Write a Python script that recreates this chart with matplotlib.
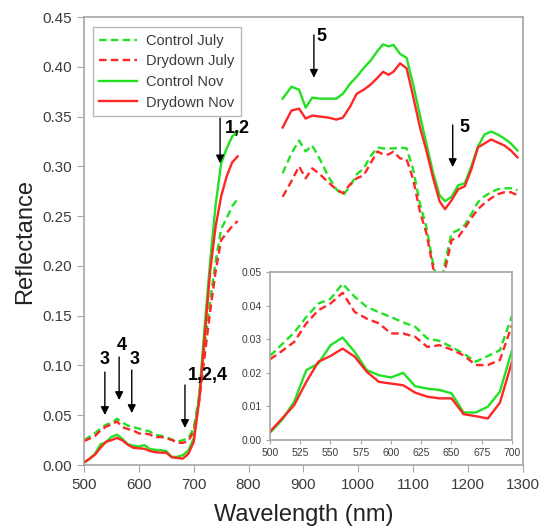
import numpy as np
import matplotlib
matplotlib.use("Agg")
import matplotlib.pyplot as plt

plt.rcParams['font.family'] = ['Liberation Sans', 'DejaVu Sans']

GREEN = '#22e022'
RED = '#ff2626'
GREY = '#a6a6a6'
TXT = '#3c3c3c'

# visible / red-edge part (500-780 nm)
wl_vis = [500, 510, 520, 530, 540, 550, 560, 570, 580, 590, 600, 610, 620, 630, 640,
          650, 660, 670, 680, 690, 700, 710, 720, 730, 740, 750, 760, 770, 780]
control_july_vis = [0.0250, 0.0285, 0.0320, 0.0366, 0.0406, 0.0420, 0.0465, 0.0426, 0.0396, 0.0380,
                    0.0366, 0.0350, 0.0337, 0.0302, 0.0295, 0.0277, 0.0257, 0.0233, 0.0250, 0.0267,
                    0.0370, 0.070, 0.120, 0.165, 0.205, 0.237, 0.248, 0.260, 0.267]
drydown_july_vis = [0.0240, 0.0265, 0.0292, 0.0347, 0.0386, 0.0406, 0.0438, 0.0381, 0.0361, 0.0347,
                    0.0317, 0.0317, 0.0307, 0.0277, 0.0282, 0.0269, 0.0252, 0.0223, 0.0223, 0.0238,
                    0.0342, 0.065, 0.110, 0.155, 0.195, 0.226, 0.233, 0.240, 0.245]
control_nov_vis = [0.0022, 0.0060, 0.0114, 0.0208, 0.0228, 0.0282, 0.0305, 0.0262, 0.0208, 0.0193,
                   0.0186, 0.0200, 0.0160, 0.0153, 0.0149, 0.0139, 0.0082, 0.0082, 0.0099, 0.0144,
                   0.0267, 0.070, 0.140, 0.205, 0.262, 0.303, 0.318, 0.330, 0.335]
drydown_nov_vis = [0.0025, 0.0064, 0.0104, 0.0173, 0.0233, 0.0250, 0.0272, 0.0248, 0.0203, 0.0173,
                   0.0168, 0.0163, 0.0141, 0.0129, 0.0124, 0.0124, 0.0077, 0.0071, 0.0064, 0.0111,
                   0.0233, 0.065, 0.130, 0.195, 0.240, 0.270, 0.290, 0.304, 0.310]

# NIR part (860-1290 nm)
wl_nir = [862, 878, 892, 904, 916, 930, 945, 960, 972, 985, 997, 1010, 1022, 1035, 1045, 1055,
          1064, 1076, 1088, 1100, 1112, 1124, 1136, 1148, 1158, 1170, 1182, 1194, 1206, 1218,
          1230, 1242, 1254, 1266, 1278, 1290]
control_july_nir = [0.293, 0.313, 0.326, 0.315, 0.321, 0.307, 0.290, 0.277, 0.271, 0.280, 0.292, 0.298,
                    0.310, 0.319, 0.318, 0.318, 0.318, 0.319, 0.318, 0.297, 0.263, 0.239, 0.203, 0.175,
                    0.203, 0.233, 0.236, 0.241, 0.252, 0.264, 0.270, 0.274, 0.277, 0.278, 0.278, 0.276]
drydown_july_nir = [0.2695, 0.285, 0.300, 0.288, 0.298, 0.292, 0.284, 0.277, 0.273, 0.282, 0.288, 0.291,
                    0.303, 0.315, 0.312, 0.312, 0.3147, 0.308, 0.307, 0.287, 0.255, 0.233, 0.199, 0.172,
                    0.196, 0.226, 0.229, 0.238, 0.248, 0.257, 0.263, 0.268, 0.272, 0.274, 0.274, 0.271]
control_nov_nir = [0.368, 0.380, 0.377, 0.359, 0.369, 0.368, 0.368, 0.368, 0.373, 0.383, 0.390, 0.399,
                   0.406, 0.416, 0.4225, 0.4205, 0.422, 0.413, 0.409, 0.382, 0.352, 0.323, 0.294, 0.271,
                   0.265, 0.2695, 0.281, 0.283, 0.300, 0.320, 0.332, 0.335, 0.332, 0.328, 0.323, 0.316]
drydown_nov_nir = [0.339, 0.356, 0.358, 0.348, 0.351, 0.350, 0.349, 0.347, 0.349, 0.360, 0.373, 0.377,
                   0.382, 0.389, 0.395, 0.392, 0.395, 0.4035, 0.3985, 0.370, 0.340, 0.316, 0.289, 0.265,
                   0.257, 0.266, 0.277, 0.280, 0.297, 0.319, 0.323, 0.327, 0.324, 0.321, 0.316, 0.309]

labels = ['Control July', 'Drydown July', 'Control Nov', 'Drydown Nov']
colors = [GREEN, RED, GREEN, RED]
styles = ['--', '--', '-', '-']
vis_series = [control_july_vis, drydown_july_vis, control_nov_vis, drydown_nov_vis]
nir_series = [control_july_nir, drydown_july_nir, control_nov_nir, drydown_nov_nir]

# (label, x, arrow top, arrow bottom, text x, text y, alignment)
arrows = [
    ('1,2', 748, 0.3485, 0.303, 757, 0.338, 'left'),
    ('5', 919, 0.432, 0.389, 924, 0.430, 'left'),
    ('5', 1172, 0.3415, 0.2993, 1185, 0.3395, 'left'),
    ('3', 538, 0.0934, 0.0502, 538, 0.1055, 'center'),
    ('4', 564, 0.1085, 0.0653, 569, 0.1205, 'center'),
    ('3', 587, 0.0954, 0.0522, 593, 0.1055, 'center'),
    ('1,2,4', 684, 0.0804, 0.0372, 689, 0.0904, 'left'),
]


def dash(ls):
    return (3.2, 1.8) if ls == '--' else (None, None)


fig = plt.figure(figsize=(5.47, 5.27), dpi=100)
ax = fig.add_axes([0.1536, 0.1176, 0.8024, 0.8501])

for lab, c, ls, v, n in zip(labels, colors, styles, vis_series, nir_series):
    ax.plot(wl_vis, v, color=c, ls=ls, lw=1.7, label=lab, dashes=dash(ls))
    ax.plot(wl_nir, n, color=c, ls=ls, lw=1.7, dashes=dash(ls))

ax.set_xlim(500, 1300)
ax.set_ylim(0, 0.45)
ax.set_xticks(np.arange(500, 1301, 100))
ax.set_yticks(np.arange(0, 0.451, 0.05))
ax.set_yticklabels(['%.2f' % t for t in np.arange(0, 0.451, 0.05)])
ax.tick_params(direction='out', length=5, color=GREY, labelsize=11, labelcolor=TXT, pad=4)
for s in ax.spines.values():
    s.set_color(GREY)
    s.set_linewidth(1.2)
ax.set_xlabel('Wavelength (nm)', fontsize=17, color='#222222', labelpad=9)
ax.set_ylabel('Reflectance', fontsize=17, color='#222222', labelpad=4)

leg = ax.legend(loc='upper left', bbox_to_anchor=(0.02, 0.977), borderaxespad=0,
                fontsize=10.5, handlelength=2.6, labelspacing=0.45, fancybox=False,
                borderpad=0.45, handletextpad=0.6)
leg.get_frame().set_edgecolor(GREY)
leg.get_frame().set_linewidth(1.0)
for t in leg.get_texts():
    t.set_color(TXT)

for lab, x, y0, y1, tx, ty, ha in arrows:
    ax.annotate('', xy=(x, y1), xytext=(x, y0),
                arrowprops=dict(arrowstyle='-|>', color='black', lw=1.0, mutation_scale=12,
                                shrinkA=0, shrinkB=0))
    ax.text(tx, ty, lab, fontsize=13, fontweight='bold', ha=ha, va='center', color='black')

# inset zoom on 500-700 nm
axin = fig.add_axes([0.4936, 0.165, 0.4424, 0.319])
for c, ls, v in zip(colors, styles, vis_series):
    axin.plot(wl_vis[:21], v[:21], color=c, ls=ls, lw=1.7, dashes=dash(ls))
axin.set_xlim(500, 700)
axin.set_ylim(0, 0.05)
axin.set_xticks(np.arange(500, 701, 25))
axin.set_yticks(np.arange(0, 0.051, 0.01))
axin.set_yticklabels(['%.2f' % t for t in np.arange(0, 0.051, 0.01)])
axin.tick_params(direction='out', length=3, color=GREY, labelsize=7.5, labelcolor=TXT, pad=3)
for s in axin.spines.values():
    s.set_color(GREY)
    s.set_linewidth(1.2)

fig.savefig('out.png', dpi=100)
